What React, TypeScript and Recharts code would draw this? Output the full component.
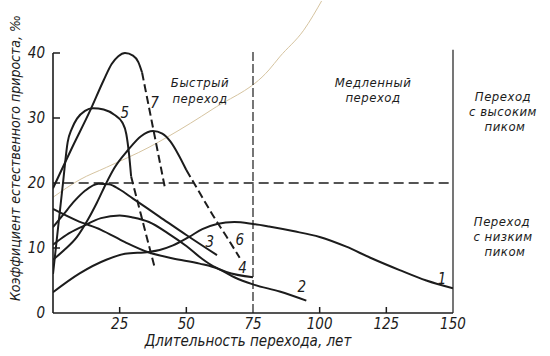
import React from 'react';
import { LineChart, Line, XAxis, YAxis, ReferenceLine, ReferenceDot } from 'recharts';

// curves: [years, ‰]
const curve1 = [[0, 3.2], [10, 6.1], [20, 8.2], [27, 9.1], [36, 9.4], [40, 9.7], [45, 10.4], [51, 11.7], [56, 12.9], [61.5, 13.7], [68, 14], [75, 13.7], [81, 13.3], [90, 12.6], [100, 11.7], [110, 10.2], [119, 8.5], [130, 6.6], [140, 5], [150, 3.8]];
const curve2 = [[0, 16], [9, 14.2], [18, 12.8], [27, 10.9], [36, 9.3], [45, 8.4], [55, 7.6], [62, 6.8], [68, 5.5], [75, 4.4], [85, 3.3], [95, 1.9]];
const curve3 = [[0, 13.2], [4, 15.2], [8, 17.2], [12, 18.8], [17, 19.9], [21, 19.8], [25, 19], [30, 17.6], [40, 14.8], [50, 12], [61.5, 8.9]];
const curve4 = [[0, 10.5], [5, 12], [11, 13.3], [18, 14.6], [25, 15], [30, 14.7], [36, 14], [43, 12.3], [50, 10.3], [56, 8.3], [60, 7.2], [65, 6.3], [75, 5.5]];
const curve5 = [[0, 6], [2, 13.5], [3.75, 20], [5.5, 26.3], [7, 28.3], [9, 29.9], [12, 31.1], [15, 31.5], [19, 31.3], [23, 30.5], [26, 29.3], [27.5, 27.5], [28.5, 24.5], [29.3, 21]];
const curve5Dashed = [[29.3, 21], [33, 15.1], [38, 7.2]];
const curve6 = [[0, 8.2], [4, 9.6], [9, 11.7], [13, 14.3], [16.5, 17], [20, 20], [23, 22.3], [28, 25], [33, 27.2], [37.5, 28], [41, 27.6], [44, 26.4], [47, 24.4], [50, 22]];
const curve6Dashed = [[50, 22], [55, 18.5], [60, 15], [65, 11.8], [70, 8.5]];
const curve7 = [[0, 19.2], [7, 25.3], [14, 31.2], [19, 35.8], [22, 38.3], [24.5, 39.5], [27, 40], [30, 39.6], [32, 38.6], [33.4, 37]];
const curve7Dashed = [[33.4, 37], [42, 19.2]];
// faint pencil stroke on the scan
const scanStroke = [[0, 17.8], [10, 20.5], [20, 22.4], [36, 25.5], [43, 27.1], [60, 31.4], [81, 37.4], [85, 39.4], [94, 43.5], [101, 48.2]];

const xTicks = [25, 50, 75, 100, 125, 150];
const yTicks = [0, 10, 20, 30, 40];

const curveNames = ['7', '5', '3', '6', '4', '2', '1'];
const curveNameAt = [[38.2, 32.3], [27, 30.8], [58.9, 10.9], [70.1, 11.2], [71.2, 6.9], [93.4, 4], [146, 5.2]];

const FONT = '"Liberation Sans Narrow", "DejaVu Sans Condensed", "Liberation Sans", sans-serif';
const INK = '#1c1c1c';

const toPoints = (pts: number[][]) => pts.map(([x, y]) => ({ x, y }));

function XTick({ x, y, payload }: any) {
  const v = payload.value;
  const mark = v !== 75 && v !== 150;
  return (
    <g>
      {mark && <line x1={x} y1={y} x2={x} y2={y - 6} stroke={INK} strokeWidth={1.5} />}
      <text x={x} y={y + 16} textAnchor="middle" fontFamily={FONT} fontStyle="italic" fontSize={15} fill={INK}>
        {v}
      </text>
    </g>
  );
}

function YTick({ x, y, payload }: any) {
  const v = payload.value;
  return (
    <g>
      {v !== 0 && <line x1={x} y1={y} x2={x + 7} y2={y} stroke={INK} strokeWidth={1.5} />}
      <text x={x - 8} y={y + 5} textAnchor="end" fontFamily={FONT} fontStyle="italic" fontSize={15} fill={INK}>
        {v}
      </text>
    </g>
  );
}

const txt = { fontFamily: FONT, fontStyle: 'italic', fontSize: 13, fill: INK, letterSpacing: 0.5 } as const;

export default function App() {
  const solid = { type: 'monotone' as const, dataKey: 'y', stroke: INK, strokeWidth: 2, dot: false, isAnimationActive: false };
  const dashed = { ...solid, strokeDasharray: '8 4' };

  return (
    <div style={{ position: 'relative', width: 550, height: 356, background: '#fff' }}>
      <style>{'body{margin:0}'}</style>
      <LineChart width={550} height={356} margin={{ top: 1, right: 97, bottom: 0, left: 13 }}>
        <XAxis
          type="number"
          dataKey="x"
          domain={[0, 150]}
          ticks={xTicks}
          allowDataOverflow
          height={43}
          tickSize={0}
          tickMargin={0}
          tickLine={false}
          axisLine={{ stroke: INK, strokeWidth: 1.6 }}
          tick={<XTick />}
        />
        <YAxis
          type="number"
          domain={[0, 48]}
          ticks={yTicks}
          allowDataOverflow
          width={40}
          tickSize={0}
          tickMargin={0}
          tickLine={false}
          axisLine={false}
          tick={<YTick />}
        />
        <Line data={toPoints(scanStroke)} type="monotone" dataKey="y" stroke="#d6c4a0" strokeWidth={1} dot={false} isAnimationActive={false} />
        <ReferenceLine segment={[{ x: 0, y: 0 }, { x: 0, y: 40 }]} stroke={INK} strokeWidth={1.6} />
        <ReferenceLine segment={[{ x: 75, y: 0 }, { x: 75, y: 40.5 }]} stroke={INK} strokeWidth={1.2} strokeDasharray="9 3" />
        <ReferenceLine segment={[{ x: 150, y: 0 }, { x: 150, y: 40.5 }]} stroke={INK} strokeWidth={1.2} />
        <ReferenceLine segment={[{ x: 4, y: 20 }, { x: 150, y: 20 }]} stroke={INK} strokeWidth={1.3} strokeDasharray="10 5" />
        <Line data={toPoints(curve1)} {...solid} />
        <Line data={toPoints(curve2)} {...solid} />
        <Line data={toPoints(curve3)} {...solid} />
        <Line data={toPoints(curve4)} {...solid} />
        <Line data={toPoints(curve5)} {...solid} />
        <Line data={toPoints(curve5Dashed)} {...dashed} />
        <Line data={toPoints(curve6)} {...solid} />
        <Line data={toPoints(curve6Dashed)} {...dashed} />
        <Line data={toPoints(curve7)} {...solid} />
        <Line data={toPoints(curve7Dashed)} {...dashed} />
        {curveNames.map((n, i) => (
          <ReferenceDot
            key={n}
            x={curveNameAt[i][0]}
            y={curveNameAt[i][1]}
            r={0}
            shape={(p: any) => (
              <text x={p.cx} y={p.cy + 5} textAnchor="middle" {...txt} fontSize={15}>
                {n}
              </text>
            )}
          />
        ))}
      </LineChart>
      <svg width={550} height={356} style={{ position: 'absolute', left: 0, top: 0, pointerEvents: 'none' }}>
        <text x={200} y={87} textAnchor="middle" {...txt}>Быстрый</text>
        <text x={200} y={103} textAnchor="middle" {...txt}>переход</text>
        <text x={373} y={87} textAnchor="middle" {...txt}>Медленный</text>
        <text x={373} y={102} textAnchor="middle" {...txt}>переход</text>
        <text x={503} y={101} textAnchor="middle" {...txt}>Переход</text>
        <text x={503} y={116} textAnchor="middle" {...txt}>с высоким</text>
        <text x={505} y={131} textAnchor="middle" {...txt}>пиком</text>
        <text x={502} y={226} textAnchor="middle" {...txt}>Переход</text>
        <text x={503} y={241} textAnchor="middle" {...txt}>с низким</text>
        <text x={505} y={256} textAnchor="middle" {...txt}>пиком</text>
        <text x={248} y={346} textAnchor="middle" {...txt} fontSize={15} letterSpacing={0}>
          Длительность перехода, лет
        </text>
        <text
          x={0}
          y={0}
          transform="translate(20,158) rotate(-90)"
          textAnchor="middle"
          {...txt}
          fontSize={14}
          letterSpacing={0}
        >
          Коэффициент естественного прироста, ‰
        </text>
      </svg>
    </div>
  );
}
